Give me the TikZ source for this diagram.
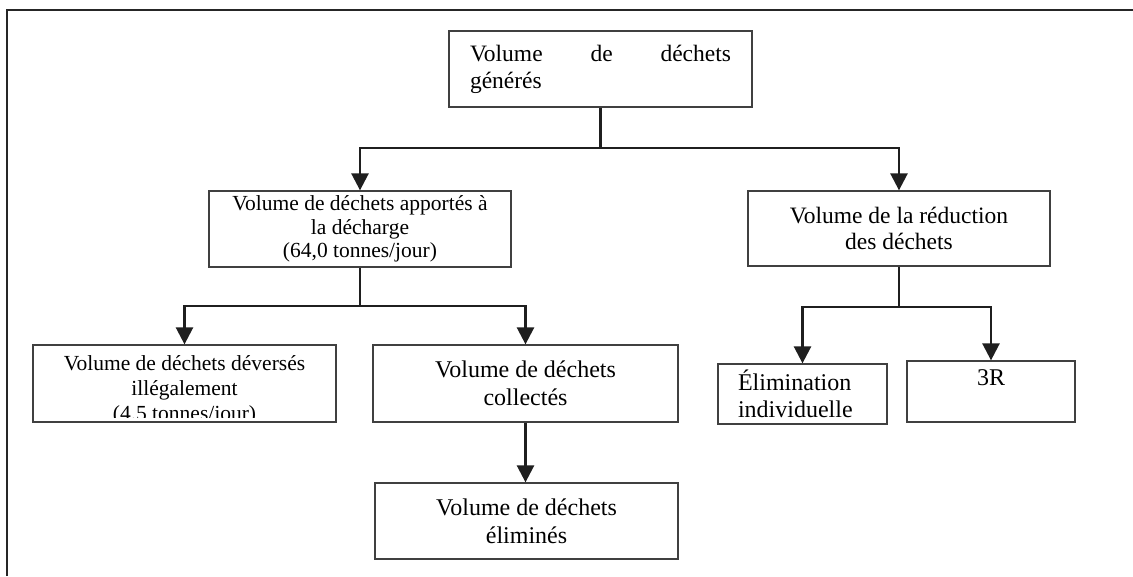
\documentclass[tikz,border=0pt]{standalone}
\usepackage{fontspec}
\setmainfont{Liberation Serif}
\usetikzlibrary{arrows.meta}
\begin{document}
\begin{tikzpicture}[x=1pt, y=-1pt, line join=miter,
  box/.style={draw=black!75, line width=1.3pt, inner sep=0pt, align=center},
  txt/.style={inner sep=0pt, align=center},
  link/.style={draw=black!88, line width=2.6pt},
  arrow/.style={link, -{Triangle[width=17pt, length=17pt]}},
  frame/.style={draw=black!85, line width=2pt}]
  \useasboundingbox (0,0) rectangle (1133,576);
  \draw[frame] (7,576) -- (7,10) -- (1133,10);
  % boxes
  \node[box, minimum width=303pt, minimum height=76pt, text width=261pt, align=left,
    font=\fontsize{23.5}{27}\selectfont] (gen) at (600.5,69)
    {\hbox to 261pt{Volume\hfill de\hfill déchets}\\générés};
  \node[box, minimum width=302pt, minimum height=76pt, font=\fontsize{21.5}{23.5}\selectfont]
    (landfill) at (360,229) {Volume de déchets apportés à\\la décharge\\(64,0 tonnes/jour)};
  \node[box, minimum width=302pt, minimum height=75pt, font=\fontsize{23.5}{26}\selectfont]
    (reduction) at (899,228.5) {Volume de la réduction\\des déchets};
  \node[box, minimum width=303pt, minimum height=77pt] (illegal) at (184.5,383.5) {};
  \begin{scope}
    \clip ([yshift=5pt]illegal.south west) rectangle (illegal.north east);
    \node[txt, anchor=north, font=\fontsize{21.5}{25}\selectfont] (illegaltext)
      at ([yshift=-11pt]illegal.north) {Volume de déchets déversés\\illégalement\\(4.5 tonnes/jour)};
  \end{scope}
  \node[box, minimum width=305pt, minimum height=77pt, font=\fontsize{24}{28}\selectfont]
    (collected) at (525.5,383.5) {Volume de déchets\\collectés};
  \node[box, minimum width=303pt, minimum height=76pt, font=\fontsize{24}{28}\selectfont]
    (disposed) at (526.5,521) {Volume de déchets\\éliminés};
  \node[box, minimum width=169pt, minimum height=60pt, text width=129pt, align=left,
    font=\fontsize{24}{27}\selectfont] (self) at (802.5,394) {Élimination\\individuelle};
  \node[box, minimum width=168pt, minimum height=61pt, font=\fontsize{24}{27}\selectfont]
    (threeR) at (991,391.5) {3R\\\mbox{}};
  % connectors
  \coordinate (j1) at (gen.south |- 0,148);
  \coordinate (j2) at (landfill.south |- 0,306);
  \coordinate (j3) at (reduction.south |- 0,307);
  \draw[link] (gen.south) -- (j1);
  \draw[arrow] (j1) -| (landfill.north);
  \draw[arrow] (j1) -| (reduction.north);
  \draw[link] (landfill.south) -- (j2);
  \draw[arrow] (j2) -| (illegal.north);
  \draw[arrow] (j2) -| (collected.north);
  \draw[arrow] (collected.south) -- (collected.south |- disposed.north);
  \draw[link] (reduction.south) -- (j3);
  \draw[arrow] (j3) -| (self.north);
  \draw[arrow] (j3) -| (threeR.north);
\end{tikzpicture}
\end{document}
